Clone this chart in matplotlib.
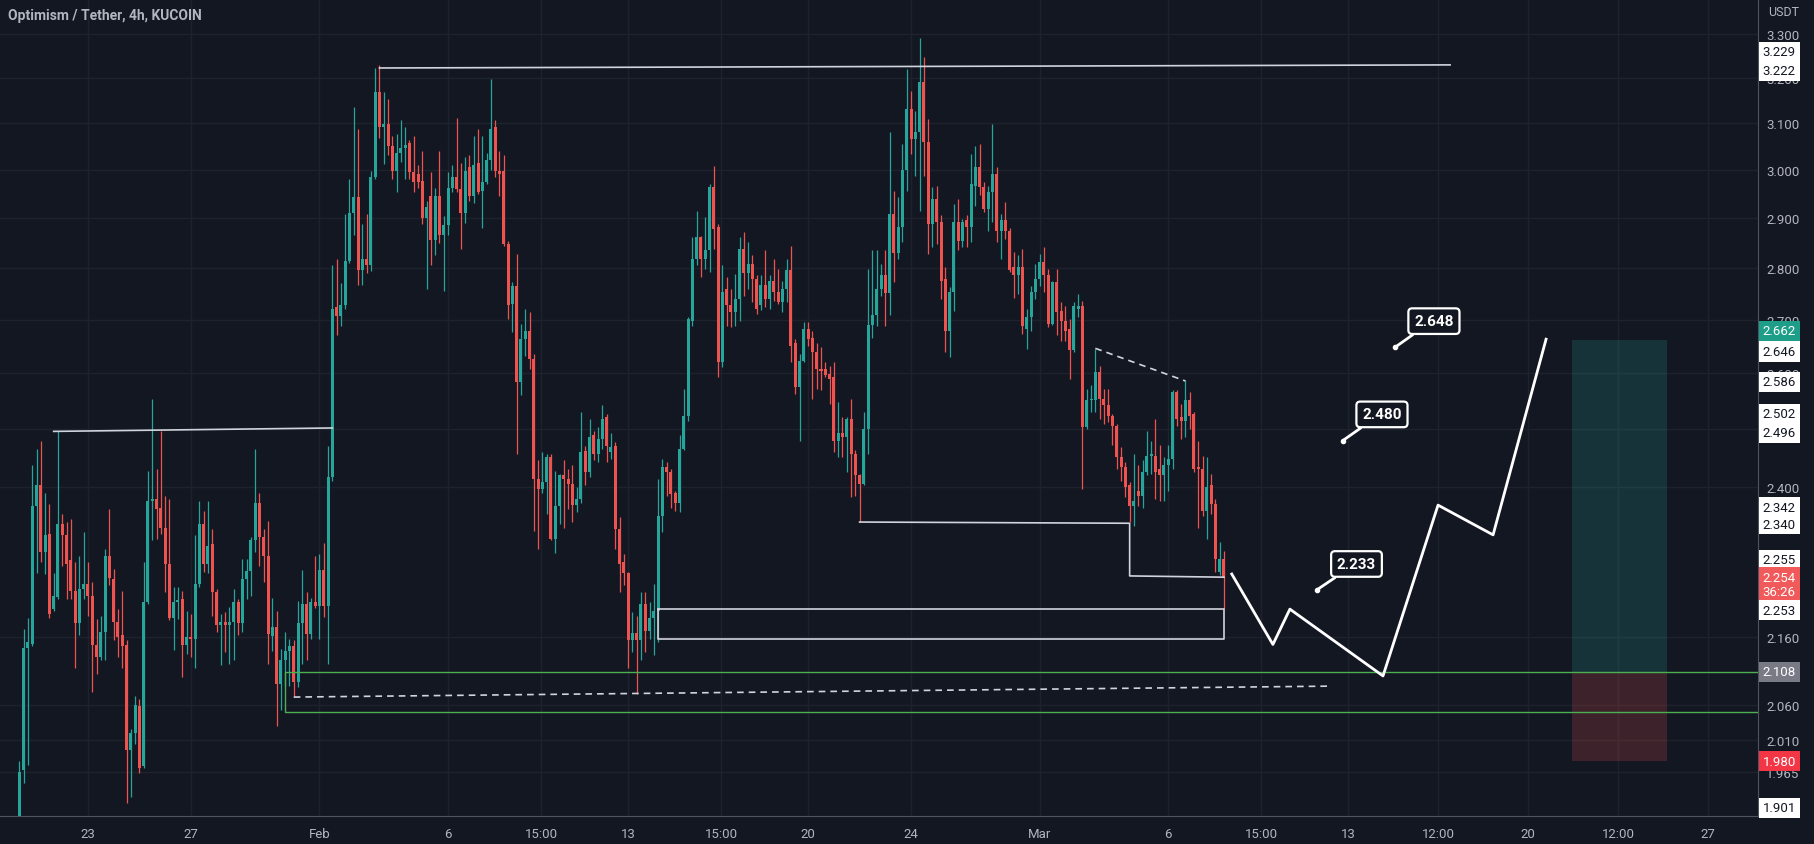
import numpy as np
import matplotlib.pyplot as plt
from matplotlib.ticker import FixedLocator, NullLocator, FuncFormatter

plt.rcParams['font.family'] = ['Roboto', 'DejaVu Sans']

# OP/USDT 4h candles (KuCoin); candle i opens on day (i - 16) / 6, day 0 = 23 Jan
opens = [
    1.905, 1.967, 2.143, 2.150, 2.369, 2.403, 2.293, 2.322, 2.203, 2.222,
    2.339, 2.320, 2.280, 2.232, 2.181, 2.234, 2.242, 2.224, 2.148, 2.130,
    2.168, 2.287, 2.250, 2.183, 2.163, 2.148, 1.995, 2.020, 2.058, 1.973,
    2.214, 2.377, 2.380, 2.366, 2.333, 2.274, 2.190, 2.214, 2.219, 2.148,
    2.160, 2.158, 2.242, 2.339, 2.274, 2.306, 2.229, 2.178, 2.183, 2.178,
    2.183, 2.214, 2.181, 2.250, 2.263, 2.312, 2.374, 2.317, 2.287, 2.162,
    2.175, 2.090, 2.126, 2.139, 2.147, 2.093, 2.181, 2.211, 2.165, 2.214,
    2.208, 2.265, 2.208, 2.418, 2.724, 2.707, 2.728, 2.813, 2.910, 2.943,
    2.796, 2.818, 2.806, 2.985, 3.168, 3.091, 3.098, 3.050, 2.996, 3.036,
    3.045, 3.056, 2.994, 2.990, 2.976, 2.900, 2.944, 2.856, 2.944, 2.865,
    2.886, 2.962, 2.985, 2.960, 2.910, 3.005, 2.944, 3.015, 2.955, 2.975,
    3.020, 3.092, 2.998, 2.998, 2.848, 2.729, 2.765, 2.584, 2.663, 2.679,
    2.626, 2.414, 2.397, 2.408, 2.451, 2.314, 2.369, 2.420, 2.414, 2.406,
    2.371, 2.380, 2.462, 2.425, 2.489, 2.457, 2.483, 2.521, 2.460, 2.471,
    2.331, 2.277, 2.260, 2.155, 2.166, 2.155, 2.211, 2.170, 2.190, 2.200,
    2.352, 2.434, 2.426, 2.391, 2.374, 2.466, 2.524, 2.698, 2.818, 2.861,
    2.818, 2.835, 2.963, 2.881, 2.620, 2.759, 2.727, 2.714, 2.739, 2.838,
    2.789, 2.808, 2.779, 2.727, 2.766, 2.739, 2.775, 2.752, 2.733, 2.759,
    2.795, 2.655, 2.575, 2.623, 2.682, 2.666, 2.639, 2.608, 2.608, 2.599,
    2.593, 2.480, 2.494, 2.486, 2.518, 2.457, 2.420, 2.406, 2.500, 2.689,
    2.708, 2.759, 2.785, 2.750, 2.908, 2.830, 2.881, 2.999, 3.131, 3.065,
    3.080, 3.190, 3.058, 2.888, 2.939, 2.891, 2.779, 2.679, 2.752, 2.891,
    2.854, 2.895, 2.881, 2.966, 3.006, 2.963, 2.918, 2.953, 2.991, 2.874,
    2.895, 2.874, 2.801, 2.785, 2.801, 2.682, 2.704, 2.752, 2.779, 2.811,
    2.785, 2.692, 2.772, 2.717, 2.698, 2.682, 2.642, 2.720, 2.726, 2.503,
    2.551, 2.551, 2.602, 2.554, 2.542, 2.524, 2.506, 2.451, 2.434, 2.403,
    2.369, 2.394, 2.386, 2.426, 2.454, 2.454, 2.431, 2.420, 2.437, 2.448,
    2.566, 2.521, 2.515, 2.551, 2.527, 2.434, 2.431, 2.360, 2.403, 2.372,
    2.262, 2.282]
highs = [
    1.980, 2.173, 2.190, 2.437, 2.466, 2.480, 2.390, 2.372, 2.260, 2.497,
    2.355, 2.342, 2.347, 2.277, 2.287, 2.325, 2.277, 2.245, 2.188, 2.193,
    2.298, 2.363, 2.266, 2.203, 2.232, 2.155, 2.025, 2.073, 2.068, 2.277,
    2.428, 2.554, 2.431, 2.497, 2.386, 2.380, 2.237, 2.237, 2.232, 2.200,
    2.196, 2.320, 2.377, 2.360, 2.377, 2.331, 2.234, 2.196, 2.198, 2.206,
    2.234, 2.219, 2.282, 2.282, 2.317, 2.466, 2.390, 2.330, 2.343, 2.221,
    2.200, 2.142, 2.168, 2.158, 2.155, 2.215, 2.265, 2.230, 2.221, 2.286,
    2.290, 2.307, 2.471, 2.805, 2.818, 2.770, 2.908, 2.980, 3.134, 3.087,
    2.887, 2.908, 2.998, 3.222, 3.229, 3.168, 3.153, 3.072, 3.076, 3.106,
    3.092, 3.062, 3.072, 3.010, 3.040, 2.935, 2.995, 2.962, 3.040, 2.903,
    2.995, 3.010, 3.110, 3.013, 3.026, 3.030, 3.072, 3.087, 3.072, 3.035,
    3.197, 3.106, 3.040, 3.030, 2.854, 2.772, 2.828, 2.692, 2.720, 2.714,
    2.636, 2.446, 2.460, 2.457, 2.457, 2.428, 2.423, 2.446, 2.431, 2.437,
    2.400, 2.530, 2.471, 2.518, 2.497, 2.503, 2.542, 2.527, 2.494, 2.477,
    2.350, 2.290, 2.262, 2.198, 2.193, 2.229, 2.229, 2.214, 2.242, 2.414,
    2.448, 2.443, 2.431, 2.394, 2.489, 2.572, 2.704, 2.861, 2.915, 2.864,
    2.902, 2.970, 3.008, 2.888, 2.805, 2.781, 2.759, 2.787, 2.861, 2.871,
    2.851, 2.825, 2.785, 2.785, 2.835, 2.785, 2.818, 2.798, 2.775, 2.818,
    2.844, 2.663, 2.636, 2.695, 2.695, 2.679, 2.655, 2.648, 2.620, 2.614,
    2.620, 2.548, 2.521, 2.521, 2.554, 2.463, 2.423, 2.530, 2.798, 2.835,
    2.835, 2.808, 2.835, 3.080, 2.956, 2.942, 3.054, 3.220, 3.171, 3.127,
    3.290, 3.247, 3.109, 2.963, 2.966, 2.905, 2.801, 2.762, 2.928, 2.939,
    2.898, 2.905, 3.034, 3.051, 3.054, 2.973, 2.966, 3.098, 3.005, 2.908,
    2.932, 2.880, 2.831, 2.825, 2.838, 2.720, 2.765, 2.808, 2.828, 2.841,
    2.798, 2.775, 2.798, 2.733, 2.726, 2.701, 2.733, 2.748, 2.736, 2.572,
    2.578, 2.645, 2.614, 2.572, 2.572, 2.527, 2.509, 2.469, 2.443, 2.409,
    2.457, 2.437, 2.446, 2.497, 2.480, 2.518, 2.472, 2.451, 2.472, 2.569,
    2.569, 2.545, 2.587, 2.566, 2.530, 2.480, 2.454, 2.451, 2.423, 2.380,
    2.309, 2.295]
lows = [
    1.901, 1.949, 1.974, 2.146, 2.260, 2.277, 2.258, 2.190, 2.200, 2.219,
    2.271, 2.219, 2.219, 2.113, 2.163, 2.219, 2.193, 2.078, 2.105, 2.125,
    2.125, 2.240, 2.155, 2.130, 2.113, 1.923, 1.930, 2.004, 1.964, 1.971,
    2.211, 2.312, 2.314, 2.322, 2.229, 2.186, 2.140, 2.188, 2.100, 2.135,
    2.130, 2.113, 2.237, 2.262, 2.260, 2.193, 2.168, 2.118, 2.138, 2.120,
    2.125, 2.163, 2.168, 2.219, 2.224, 2.293, 2.270, 2.245, 2.120, 2.139,
    2.030, 2.052, 2.087, 2.087, 2.071, 2.085, 2.120, 2.126, 2.158, 2.204,
    2.158, 2.191, 2.120, 2.410, 2.670, 2.687, 2.720, 2.810, 2.865, 2.767,
    2.767, 2.789, 2.793, 2.980, 3.067, 3.012, 3.030, 2.980, 2.953, 3.017,
    2.980, 2.980, 2.953, 2.962, 2.887, 2.758, 2.805, 2.826, 2.850, 2.755,
    2.865, 2.953, 2.953, 2.838, 2.890, 2.935, 2.930, 2.948, 2.880, 2.970,
    3.000, 2.985, 2.944, 2.843, 2.701, 2.676, 2.457, 2.560, 2.632, 2.608,
    2.328, 2.298, 2.391, 2.355, 2.312, 2.292, 2.339, 2.333, 2.363, 2.342,
    2.358, 2.374, 2.403, 2.417, 2.446, 2.443, 2.466, 2.443, 2.448, 2.298,
    2.229, 2.240, 2.113, 2.138, 2.075, 2.126, 2.138, 2.158, 2.133, 2.153,
    2.325, 2.386, 2.366, 2.360, 2.358, 2.463, 2.515, 2.688, 2.805, 2.781,
    2.798, 2.792, 2.838, 2.593, 2.611, 2.688, 2.685, 2.688, 2.698, 2.746,
    2.759, 2.733, 2.710, 2.718, 2.724, 2.720, 2.736, 2.729, 2.714, 2.733,
    2.620, 2.563, 2.480, 2.620, 2.651, 2.554, 2.572, 2.569, 2.593, 2.545,
    2.460, 2.452, 2.452, 2.426, 2.383, 2.386, 2.342, 2.403, 2.457, 2.666,
    2.688, 2.746, 2.688, 2.708, 2.772, 2.818, 2.851, 2.956, 3.034, 2.987,
    2.915, 2.987, 2.828, 2.841, 2.848, 2.739, 2.639, 2.630, 2.717, 2.835,
    2.841, 2.841, 2.851, 2.925, 2.946, 2.911, 2.874, 2.891, 2.851, 2.818,
    2.857, 2.792, 2.742, 2.748, 2.673, 2.645, 2.679, 2.739, 2.765, 2.752,
    2.685, 2.690, 2.670, 2.660, 2.660, 2.590, 2.639, 2.704, 2.397, 2.500,
    2.530, 2.530, 2.518, 2.509, 2.512, 2.472, 2.431, 2.411, 2.383, 2.342,
    2.336, 2.369, 2.366, 2.420, 2.423, 2.380, 2.377, 2.377, 2.394, 2.431,
    2.506, 2.483, 2.486, 2.500, 2.426, 2.333, 2.352, 2.314, 2.355, 2.261,
    2.256, 2.203]
closes = [
    1.965, 2.143, 2.152, 2.369, 2.403, 2.293, 2.320, 2.196, 2.224, 2.339,
    2.320, 2.274, 2.232, 2.181, 2.234, 2.242, 2.224, 2.148, 2.130, 2.168,
    2.287, 2.252, 2.183, 2.160, 2.146, 1.995, 2.020, 2.059, 1.971, 2.214,
    2.377, 2.380, 2.363, 2.333, 2.274, 2.190, 2.214, 2.216, 2.148, 2.160,
    2.158, 2.242, 2.339, 2.274, 2.303, 2.229, 2.178, 2.183, 2.178, 2.183,
    2.214, 2.181, 2.250, 2.263, 2.312, 2.374, 2.317, 2.287, 2.165, 2.175,
    2.090, 2.126, 2.139, 2.147, 2.093, 2.181, 2.211, 2.165, 2.214, 2.208,
    2.265, 2.208, 2.418, 2.720, 2.707, 2.728, 2.813, 2.910, 2.943, 2.796,
    2.818, 2.806, 2.985, 3.168, 3.091, 3.098, 3.050, 2.996, 3.036, 3.045,
    3.052, 2.994, 2.975, 2.975, 2.900, 2.922, 2.856, 2.944, 2.865, 2.886,
    2.962, 2.985, 2.960, 2.910, 2.996, 2.944, 3.010, 2.953, 2.975, 3.020,
    3.087, 2.998, 2.990, 2.848, 2.728, 2.765, 2.584, 2.663, 2.679, 2.626,
    2.414, 2.397, 2.408, 2.451, 2.314, 2.369, 2.420, 2.414, 2.406, 2.371,
    2.380, 2.460, 2.425, 2.486, 2.457, 2.483, 2.518, 2.471, 2.469, 2.331,
    2.274, 2.260, 2.155, 2.166, 2.155, 2.211, 2.170, 2.190, 2.200, 2.352,
    2.434, 2.425, 2.389, 2.374, 2.466, 2.524, 2.701, 2.818, 2.861, 2.818,
    2.835, 2.963, 2.878, 2.620, 2.753, 2.727, 2.714, 2.739, 2.838, 2.789,
    2.808, 2.779, 2.720, 2.766, 2.739, 2.775, 2.752, 2.733, 2.759, 2.795,
    2.651, 2.575, 2.623, 2.682, 2.663, 2.639, 2.608, 2.605, 2.596, 2.590,
    2.480, 2.494, 2.486, 2.518, 2.457, 2.420, 2.406, 2.500, 2.689, 2.708,
    2.759, 2.785, 2.750, 2.908, 2.830, 2.881, 2.999, 3.131, 3.065, 3.080,
    3.190, 3.058, 2.888, 2.939, 2.891, 2.775, 2.679, 2.752, 2.891, 2.854,
    2.891, 2.881, 2.970, 3.006, 2.963, 2.918, 2.953, 2.991, 2.874, 2.895,
    2.874, 2.795, 2.785, 2.801, 2.688, 2.704, 2.752, 2.779, 2.811, 2.785,
    2.692, 2.772, 2.714, 2.698, 2.679, 2.642, 2.726, 2.726, 2.503, 2.551,
    2.554, 2.602, 2.554, 2.542, 2.524, 2.506, 2.451, 2.434, 2.400, 2.369,
    2.377, 2.386, 2.426, 2.454, 2.457, 2.426, 2.420, 2.437, 2.448, 2.566,
    2.518, 2.515, 2.551, 2.524, 2.431, 2.431, 2.360, 2.400, 2.372, 2.282,
    2.282, 2.254]

day_ticks = [0, 4, 9, 14, 17.625, 21, 24.625, 28, 32, 37, 42, 45.625, 49, 52.5, 56, 59.5, 63]
day_labels = ['23', '27', 'Feb', '6', '15:00', '13', '15:00', '20', '24', 'Mar',
              '6', '15:00', '13', '12:00', '20', '12:00', '27']
price_ticks = [3.3, 3.2, 3.1, 3.0, 2.9, 2.8, 2.7, 2.6, 2.5, 2.4, 2.16, 2.06, 2.01, 1.965]

# projected path
proj_days = [44.47, 46.07, 46.73, 50.35, 52.49, 54.63, 56.69]
proj_prices = [2.258, 2.149, 2.203, 2.102, 2.370, 2.321, 2.663]

# price callouts
callout_days = [47.78, 48.79, 50.82]
callout_prices = [2.233, 2.480, 2.648]
callout_box_days = [49.32, 50.31, 52.33]
callout_box_prices = [2.274, 2.526, 2.697]

# long position tool
pos_days = [57.70, 61.39]
pos_entry, pos_target, pos_stop = 2.108, 2.662, 1.980

# price scale tags
tag_values = [3.229, 3.222, 2.662, 2.646, 2.586, 2.502, 2.496, 2.342, 2.340,
              2.255, 2.254, 2.253, 2.108, 1.980, 1.901]
tag_extra = {2.254: '\n36:26'}
tag_faces = ['#ffffff', '#ffffff', '#1e9e88', '#ffffff', '#ffffff', '#ffffff', '#ffffff', '#ffffff',
             '#ffffff', '#ffffff', '#f05a5a', '#ffffff', '#787b86', '#f23645', '#ffffff']
tag_shift_px = [-13, 3, -9, 3, 1, -14, 1, -15, 1, -16, 8, 33, 0, 0, -11]

bg = '#131722'
fg = '#b2b5be'
white = '#d1d4dc'

fig = plt.figure(figsize=(18.14, 8.45), dpi=100, facecolor=bg)
ax = fig.add_axes([0, 28 / 845, 1758 / 1814, 817 / 845])
ax.set_facecolor(bg)
ax.set_yscale('log')

o, h, l, c = map(np.array, (opens, highs, lows, closes))
days = (np.arange(len(c)) - 16) / 6
cols = np.where(c >= o, '#26a69a', '#ef5350')
ax.vlines(days, l, h, colors=cols, lw=0.9, zorder=3)
lo = np.minimum(o, c)
ax.bar(days, np.maximum(np.abs(c - o), 0.003), bottom=lo, width=0.7 / 6,
       color=cols, lw=0, zorder=4)

# drawings
ax.plot([days[84], 52.96], [3.222, 3.229], color=white, lw=1.2, zorder=5)
ax.plot([days[8], days[73]], [2.496, 2.502], color=white, lw=1.2, zorder=5)
ax.plot([days[196], days[259], days[259], days[281]], [2.342, 2.340, 2.255, 2.253],
        color=white, lw=1.2, zorder=5)
ax.plot([days[251], days[272]], [2.646, 2.586], color=white, lw=1.2, ls=(0, (4, 3)), zorder=5)
ax.plot([days[64], 48.33], [2.071, 2.087], color=white, lw=1.2, ls=(0, (4, 3)), zorder=5)
ax.plot([days[149], days[281], days[281], days[149], days[149]],
        [2.203, 2.203, 2.158, 2.158, 2.203], color=white, lw=1.2, zorder=5)
ax.plot([64.93, days[62], days[62], 64.93], [2.108, 2.108, 2.050, 2.050],
        color='#4caf50', lw=1, zorder=5)
ax.plot(proj_days, proj_prices, color='white', lw=2, zorder=6)

ax.fill_between(pos_days, pos_entry, pos_target, color='#26a69a', alpha=0.2, lw=0)
ax.fill_between(pos_days, pos_stop, pos_entry, color='#ef5350', alpha=0.2, lw=0)

for xd, yp, bx, by in zip(callout_days, callout_prices, callout_box_days, callout_box_prices):
    ax.annotate(f'{yp:.3f}', xy=(xd, yp), xytext=(bx, by), textcoords='data',
                ha='center', va='center', color='white', fontsize=11, fontweight='bold',
                bbox=dict(boxstyle='round,pad=0.38,rounding_size=0.25', fc=bg, ec='white', lw=1.6),
                arrowprops=dict(arrowstyle='-', color='white', lw=2, shrinkA=0, shrinkB=0,
                                relpos=(0.2, 0.0)), zorder=7)
    ax.plot(xd, yp, 'o', ms=3, color='white', zorder=7)

ax.set_ylim(1.905, 3.382)
ax.set_xlim(-3.42, 64.93)

for s in ['top', 'left']:
    ax.spines[s].set_visible(False)
for s in ['right', 'bottom']:
    ax.spines[s].set_color('#50535e')
ax.yaxis.tick_right()
ax.yaxis.set_major_locator(FixedLocator(price_ticks))
ax.yaxis.set_minor_locator(NullLocator())
ax.yaxis.set_major_formatter(FuncFormatter(lambda v, p: f'{v:.3f}'))
ax.set_xticks(day_ticks, day_labels)
ax.tick_params(colors=fg, length=0, labelsize=9.5)
ax.tick_params(axis='y', pad=6)
ax.tick_params(axis='x', pad=8)
ax.grid(color='#1e222d', lw=1)
ax.set_axisbelow(True)

for v, fc, sh in zip(tag_values, tag_faces, tag_shift_px):
    tc = '#131722' if fc == '#ffffff' else 'white'
    ax.annotate(f'{v:.3f}' + tag_extra.get(v, ''), xy=(1, v), xycoords=('axes fraction', 'data'),
                xytext=(3.5, -sh * 0.72), textcoords='offset points', ha='left', va='center',
                fontsize=9.5, color=tc, linespacing=1.1, annotation_clip=False,
                bbox=dict(boxstyle='square,pad=0.28', fc=fc, ec='none'), zorder=10)

fig.text(1768 / 1814, 1 - 13 / 845, 'USDT', color=fg, fontsize=9, va='center', ha='left')
fig.text(8 / 1814, 1 - 16 / 845, 'Optimism / Tether, 4h, KUCOIN', color=fg,
         fontsize=10, fontweight='semibold', va='center', ha='left')

fig.savefig('out.png', dpi=100, facecolor=bg)
